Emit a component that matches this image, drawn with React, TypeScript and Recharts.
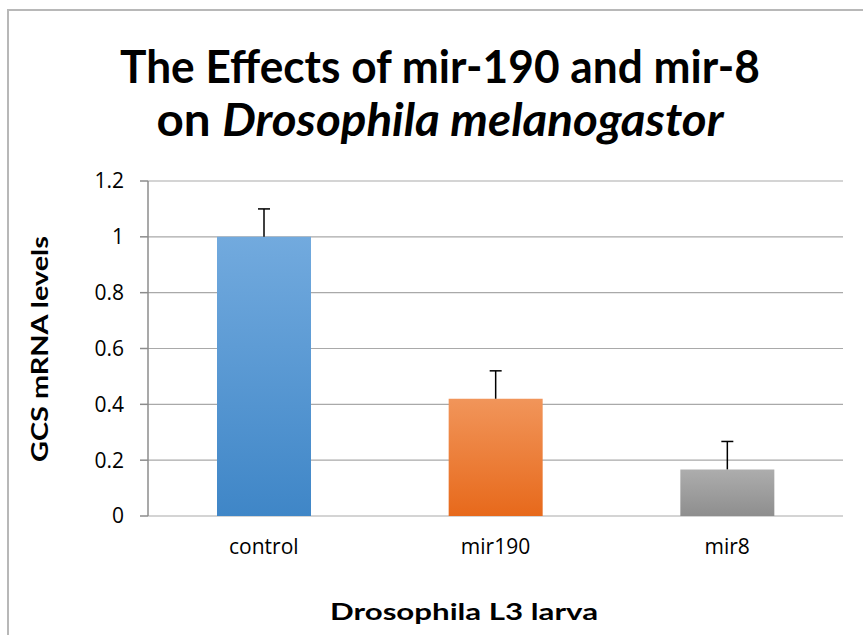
import { BarChart, Bar, XAxis, YAxis, CartesianGrid, Cell } from 'recharts';

const CATEGORIES = ['control', 'mir190', 'mir8'];
const LEVELS = [1, 0.42, 0.167];
const ERRORS = [0.1, 0.1, 0.1];
const Y_TICKS = [0, 0.2, 0.4, 0.6, 0.8, 1, 1.2];
const BOUNDARY_TICKS = [0, 1, 2, 3];

const FILLS = [
  { id: 'gBlue', top: '#72aade', bottom: '#3f86c7' },
  { id: 'gOrange', top: '#f1955a', bottom: '#e7691b' },
  { id: 'gGray', top: '#adadad', bottom: '#8e8e8e' },
];

const data = CATEGORIES.map((name, i) => ({ name, level: LEVELS[i], err: ERRORS[i] }));

const FONT = 'Lato, "Open Sans", sans-serif';
const TICK_FONT = '"Open Sans", Lato, sans-serif';

// upward-only error whisker drawn from a stacked transparent segment
const ErrorWhisker = (props: any) => {
  const { x, y, width, height } = props;
  const cx = x + width / 2;
  return (
    <g>
      <line x1={cx} x2={cx} y1={y} y2={y + height} stroke="#000" strokeWidth={1.5} />
      <line x1={cx - 6} x2={cx + 6} y1={y} y2={y} stroke="#000" strokeWidth={1.5} />
    </g>
  );
};

export default function App() {
  return (
    <div style={{ position: 'absolute', left: 0, top: 0, width: 863, height: 635, overflow: 'hidden', background: '#fff' }}>
      <div
        style={{
          position: 'absolute', left: 7, top: 9, width: 950, height: 700,
          borderLeft: '2px solid #b8b8b8', borderTop: '2px solid #b8b8b8',
        }}
      />
      <div style={{ position: 'absolute', left: 0, top: 0 }}>
        <BarChart width={863} height={635} data={data} margin={{ top: 181, right: 20, left: 0, bottom: 59 }}>
          <defs>
            {FILLS.map(f => (
              <linearGradient key={f.id} id={f.id} x1="0" y1="0" x2="0" y2="1">
                <stop offset="0%" stopColor={f.top} />
                <stop offset="100%" stopColor={f.bottom} />
              </linearGradient>
            ))}
          </defs>
          <CartesianGrid xAxisId="cat" vertical={false} stroke="#a9a9a9" strokeWidth={1.2} />
          <XAxis
            xAxisId="grid"
            type="number"
            domain={[0, 3]}
            ticks={BOUNDARY_TICKS}
            height={0}
            tickSize={8}
            tickFormatter={() => ''}
            stroke="#8c8c8c"
            strokeWidth={1.5}
          />
          <XAxis
            xAxisId="cat"
            dataKey="name"
            height={60}
            axisLine={false}
            tickLine={false}
            tickSize={0}
            tickMargin={23}
            tick={{ fill: '#000', fontSize: 21, fontFamily: TICK_FONT }}
          />
          <YAxis
            width={148}
            domain={[0, 1.2]}
            ticks={Y_TICKS}
            tickSize={8}
            tickMargin={16}
            stroke="#8c8c8c"
            strokeWidth={1.5}
            tick={{ fill: '#000', fontSize: 21, fontFamily: TICK_FONT }}
            tickFormatter={v => String(v)}
          />
          <Bar xAxisId="cat" dataKey="level" stackId="s" barSize={94} isAnimationActive={false}>
            {data.map((d, i) => (
              <Cell key={d.name} fill={`url(#${FILLS[i].id})`} />
            ))}
          </Bar>
          <Bar xAxisId="cat" dataKey="err" stackId="s" barSize={94} fill="none" shape={ErrorWhisker} isAnimationActive={false} />
        </BarChart>
      </div>
      <svg width={863} height={635} style={{ position: 'absolute', left: 0, top: 0, pointerEvents: 'none' }}>
        <g fontFamily={FONT} fontWeight="bold" fill="#000">
          <text x={440} y={83} fontSize={46} textAnchor="middle" textLength={640} lengthAdjust="spacingAndGlyphs">
            The Effects of mir-190 and mir-8
          </text>
          <text x={440} y={136} fontSize={46} textAnchor="middle" textLength={567} lengthAdjust="spacingAndGlyphs">
            on <tspan fontStyle="italic">Drosophila melanogastor</tspan>
          </text>
          <text x={464} y={620} fontSize={22} textAnchor="middle" textLength={268} lengthAdjust="spacingAndGlyphs">
            Drosophila L3 larva
          </text>
          <text
            x={0} y={0} fontSize={22} textAnchor="middle" textLength={226} lengthAdjust="spacingAndGlyphs"
            transform="translate(48 349) rotate(-90)"
          >
            GCS mRNA levels
          </text>
        </g>
      </svg>
    </div>
  );
}
